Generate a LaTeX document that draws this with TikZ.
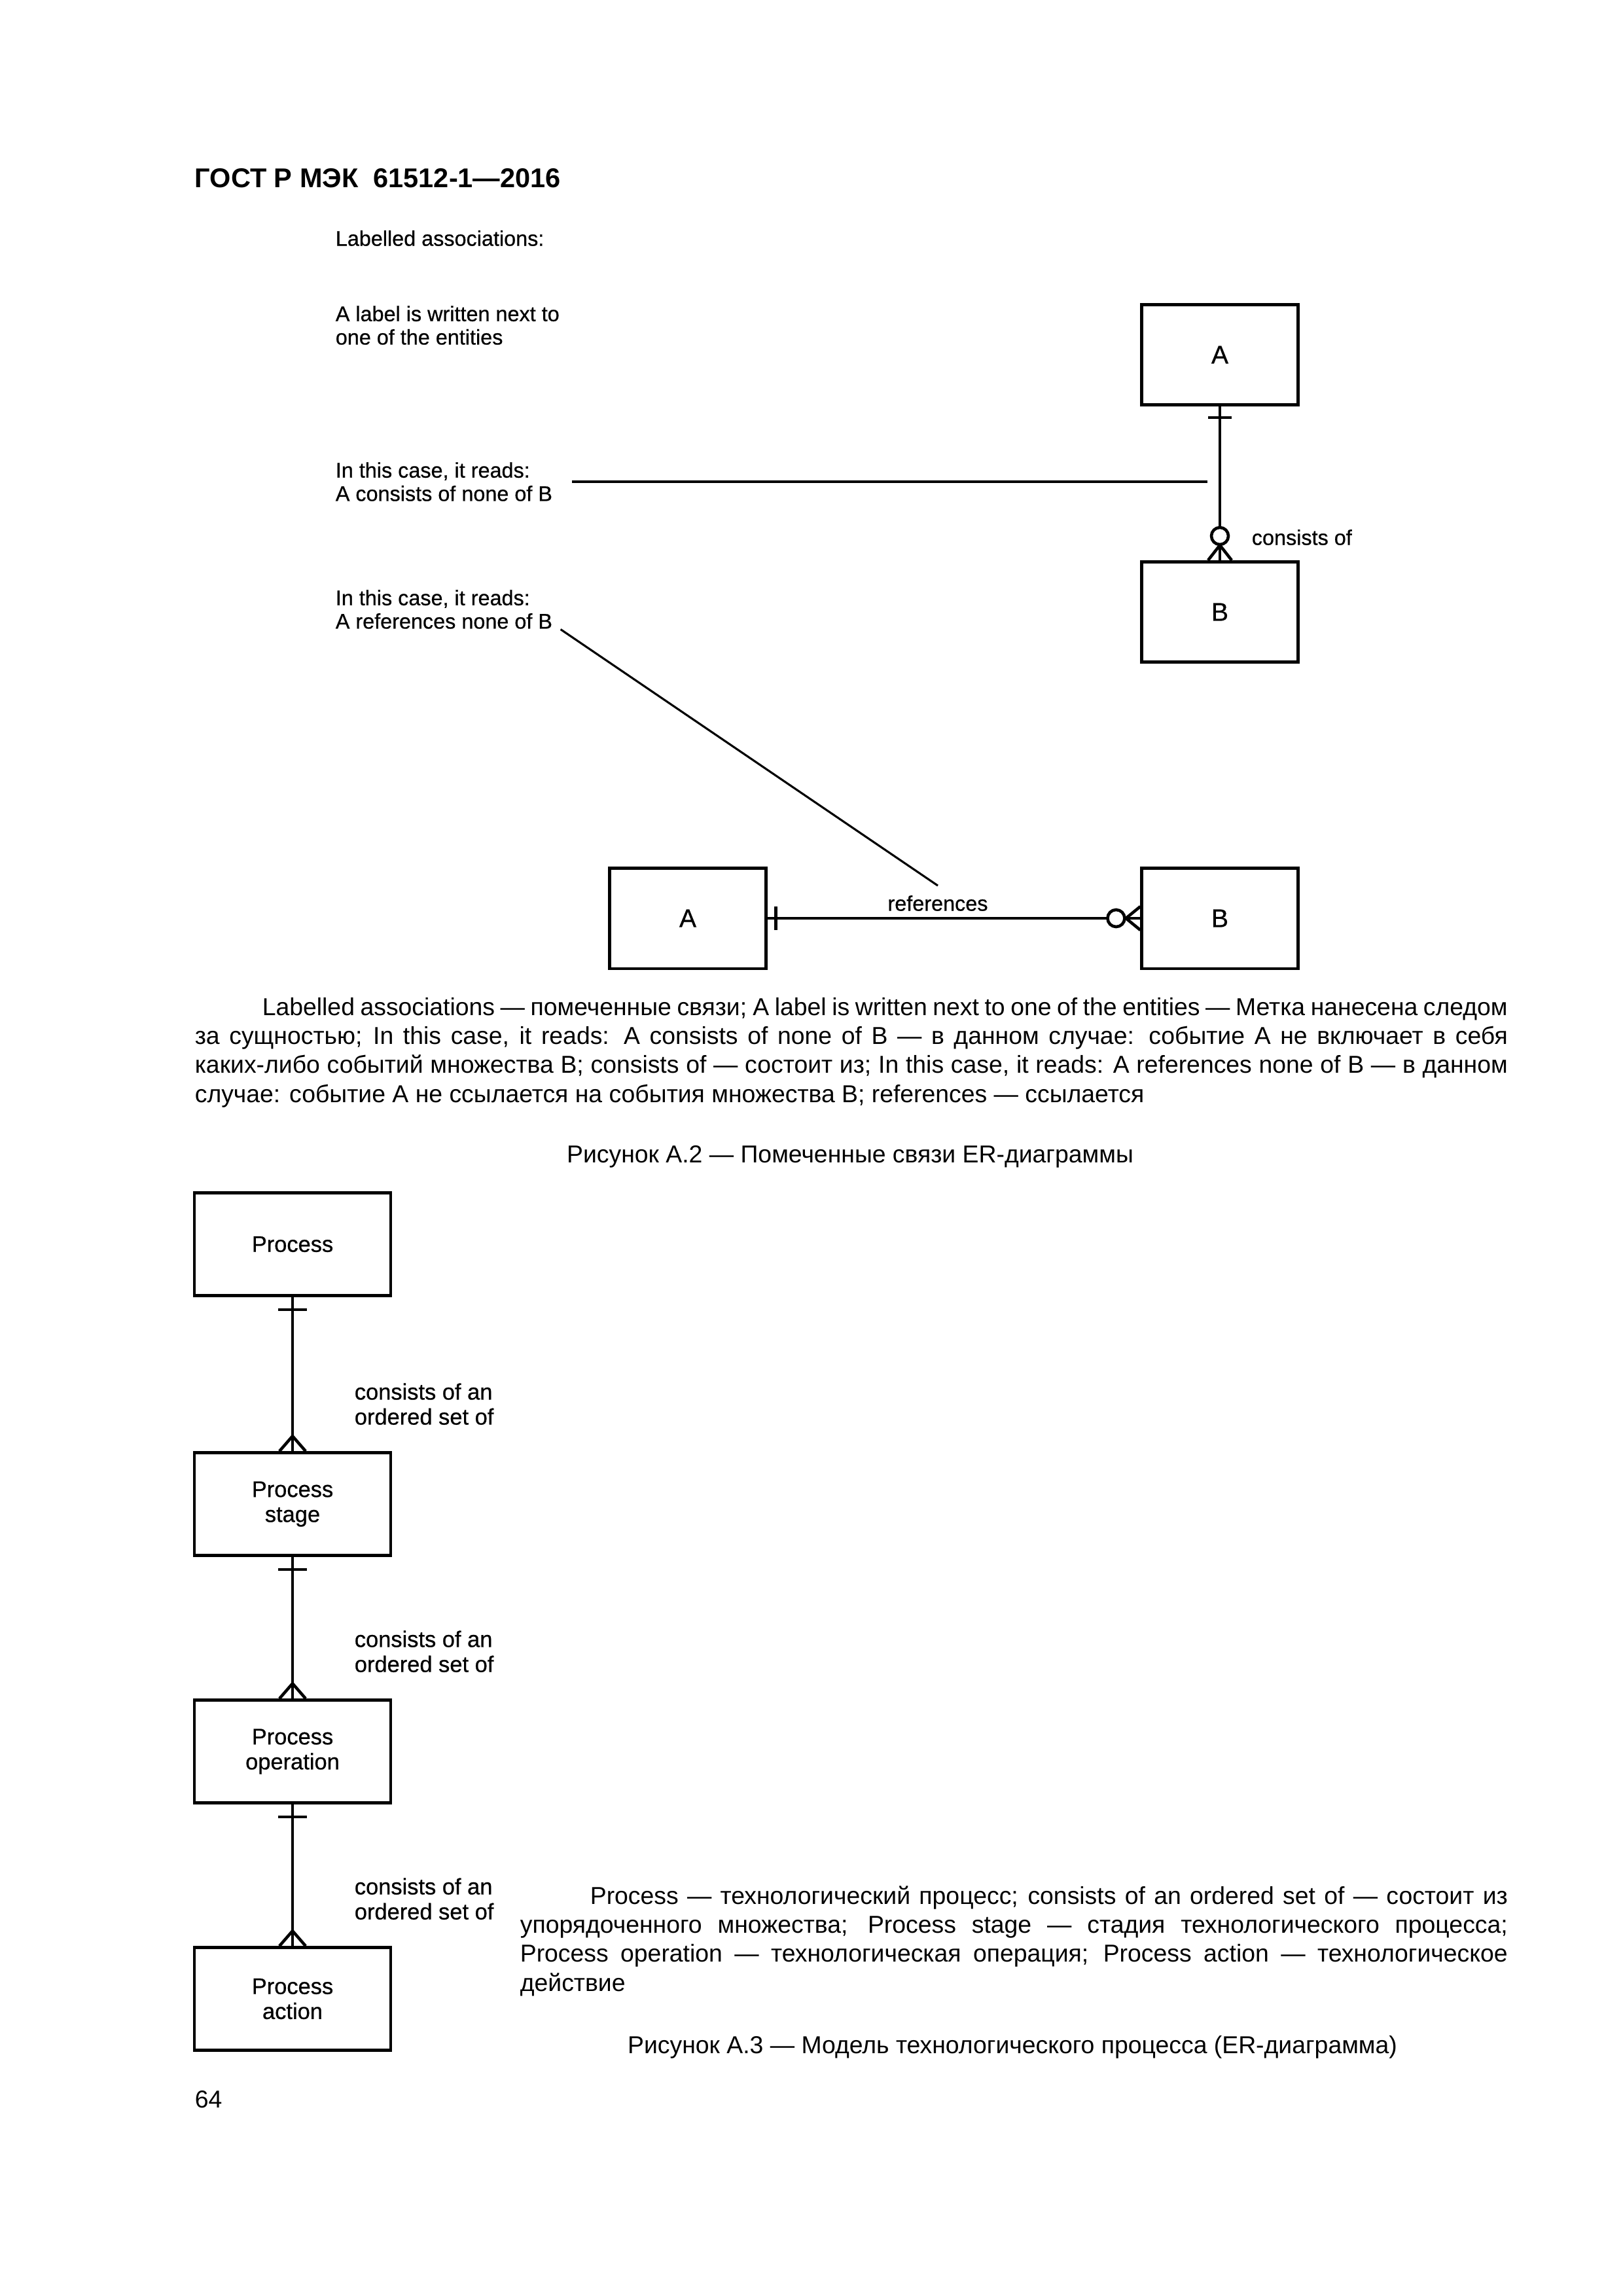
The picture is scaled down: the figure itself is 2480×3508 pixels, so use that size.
\documentclass[tikz,border=0pt]{standalone}
\usepackage{fontspec}
\setmainfont{Liberation Sans}
\newfontfamily\diagfamily{Liberation Sans}[FakeBold=0.6]
\usetikzlibrary{calc}
\newcommand{\headfont}{\fontsize{10}{12}\selectfont\bfseries}
\newcommand{\notefont}{\diagfamily\fontsize{7.8}{8.6}\selectfont}
\newcommand{\letterfont}{\diagfamily\fontsize{9.4}{10}\selectfont}
\newcommand{\procfont}{\diagfamily\fontsize{8.3}{9.2}\selectfont}
\newcommand{\bodyfont}{\fontsize{9}{10.7}\selectfont}
\tikzset{
  entity/.style={draw,line width=1.1pt,minimum width=20.2mm,minimum height=13mm,
    inner sep=0pt,font=\letterfont},
  procbox/.style={draw,line width=1.1pt,minimum width=25.4mm,minimum height=13.3mm,
    inner sep=0pt,align=center,font=\procfont},
  rel/.style={line width=1.1pt},
  leader/.style={line width=0.75pt},
  note/.style={anchor=west,align=left,inner sep=0pt,font=\notefont},
  para/.style={anchor=base west,inner sep=0pt,align=justify,font=\bodyfont},
}

\begin{document}
\begin{tikzpicture}[x=0.084667mm,y=-0.084667mm]
  % one A4 page, 300 dpi pixel units, y runs downwards
  \useasboundingbox (0,0) rectangle (2480,3508);

  \node[anchor=base west,inner sep=0pt,font=\headfont] (head) at (297,286)
    {ГОСТ Р МЭК\ \ 61512-1—2016};

  % Figure A.2: explanatory notes on the left
  \node[note] (title) at (512,364) {Labelled associations:};
  \node[note] (note0) at (512,497) {A label is written next to\\one of the entities};
  \node[note] (note1) at (512,736) {In this case, it reads:\\A consists of none of B};
  \node[note] (note2) at (512,931) {In this case, it reads:\\A references none of B};

  % the four entities
  \node[entity] (a1) at (1864,542) {A};
  \node[entity] (b1) at (1864,935) {B};
  \node[entity] (a2) at (1051,1403) {A};
  \node[entity] (b2) at (1864,1403) {B};

  % A consists of B: exactly one -- zero or many
  \draw[rel] (a1) -- (b1);
  \draw[rel] (a1.south) ++(-18,17) -- ++(36,0);
  \draw[rel] (b1.north) ++(-18,0) -- ++(18,-23) -- ++(18,23);
  \draw[rel,fill=white] (b1.north) ++(0,-37) circle[radius=13];
  \node[anchor=west,inner sep=0pt,font=\notefont] (cons) at (1912,821) {consists of};

  % A references B, drawn horizontally
  \draw[rel] (a2) -- (b2);
  \draw[rel] (a2.east) ++(13,-18) -- ++(0,36);
  \draw[rel] (b2.west) ++(0,-18) -- ++(-22,18) -- ++(22,18);
  \draw[rel,fill=white] (b2.west) ++(-37,0) circle[radius=13];
  \node[inner sep=0pt,font=\notefont] (refs) at (1433,1380) {references};

  % leader lines from the notes
  \coordinate (end1) at (1845,0);
  \draw[leader] ([xshift=2.5mm]note1.east) -- (end1 |- note1.east);
  \draw[leader] ([xshift=1mm]note2.south east) -- ([yshift=1.2mm]refs.north);

  \node[para,text width=169.85mm] (para1) at (297,1551) {\hyphenpenalty=10000
    \hspace*{8.72mm}Labelled associations — помеченные связи; A label is written next to one of the entities — Метка нанесена следом\linebreak
    за сущностью; In this case, it reads: A consists of none of B — в данном случае: событие А не включает в себя\linebreak
    каких-либо событий множества В; consists of — состоит из; In this case, it reads: A references none of B — в данном\linebreak
    случае: событие А не ссылается на события множества В; references — ссылается};
  \node[font=\bodyfont] (cap2) at (1299,1767) {Рисунок А.2 — Помеченные связи ER-диаграммы};

  % Figure A.3: process model
  \foreach \n/\y/\t in {p1/1901/Process, p2/2298/{Process\\stage},
      p3/2676/{Process\\operation}, p4/3054/{Process\\action}}{
    \node[procbox] (\n) at (447,\y) {\t};
  }
  \foreach \u/\v in {p1/p2,p2/p3,p3/p4}{
    \draw[rel] (\u) -- (\v);
    \draw[rel] (\u.south) ++(-22,19) -- ++(44,0);
    \draw[rel] (\v.north) ++(-20,0) -- ++(20,-23) -- ++(20,23);
    \node[anchor=west,align=left,inner sep=0pt,font=\procfont] (lab\u)
      at ($(\v.north)+(94,-72)$) {consists of an\\ordered set of};
  }

  \node[para,text width=127.76mm] (para2) at (794,2909) {\hyphenpenalty=10000
    \hspace*{9.06mm}Process — технологический процесс; consists of an ordered set of — состоит из\linebreak
    упорядоченного множества; Process stage — стадия технологического процесса;\linebreak
    Process operation — технологическая операция; Process action — технологическое\linebreak
    действие};
  \node[font=\bodyfont] (cap3) at (1547,3128) {Рисунок А.3 — Модель технологического процесса (ER-диаграмма)};

  \node[anchor=base west,inner sep=0pt,font=\bodyfont] (page) at (297,3220) {64};
\end{tikzpicture}
\end{document}
